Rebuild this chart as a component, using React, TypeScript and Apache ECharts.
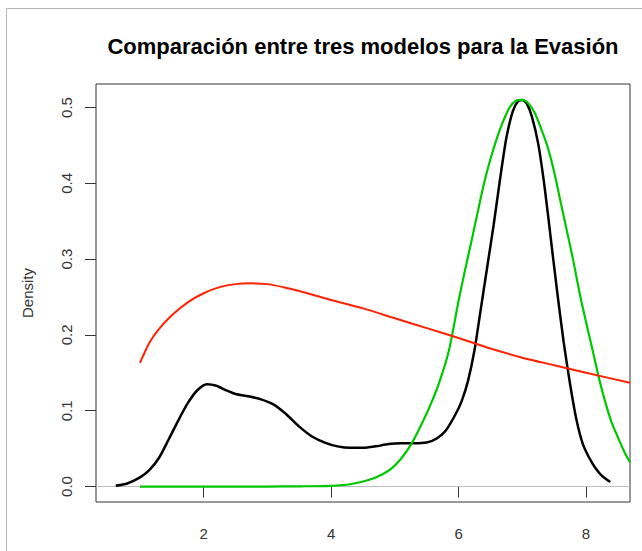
import React, { useEffect, useRef } from "react";
import * as echarts from "echarts";

const titleText = "Comparación entre tres modelos para la Evasión";
const yAxisName = "Density";

const xTicks = [2, 4, 6, 8];
const yTicks = [0, 0.1, 0.2, 0.3, 0.4, 0.5];
const xRange = [0.31, 8.69];
const yRange = [-0.0204, 0.531];

// Kernel density (black)
const blackX = [0.62, 0.8, 1.0, 1.15, 1.3, 1.45, 1.6, 1.75, 1.9, 2.05, 2.2, 2.35, 2.5, 2.7, 2.9, 3.1, 3.3, 3.5, 3.7, 3.9, 4.1, 4.3, 4.5, 4.7, 4.9, 5.1, 5.3, 5.5, 5.65, 5.8, 5.95, 6.05, 6.15, 6.25, 6.35, 6.45, 6.55, 6.65, 6.75, 6.85, 6.93, 7.0, 7.07, 7.15, 7.25, 7.35, 7.45, 7.55, 7.65, 7.75, 7.85, 7.95, 8.05, 8.15, 8.25, 8.38];
const blackY = [0.001, 0.004, 0.012, 0.022, 0.038, 0.062, 0.087, 0.11, 0.127, 0.135, 0.133, 0.127, 0.122, 0.119, 0.115, 0.108, 0.095, 0.079, 0.066, 0.058, 0.053, 0.051, 0.051, 0.053, 0.056, 0.057, 0.057, 0.058, 0.063, 0.074, 0.095, 0.113, 0.14, 0.18, 0.235, 0.29, 0.345, 0.405, 0.46, 0.495, 0.508, 0.51, 0.505, 0.488, 0.452, 0.395, 0.325, 0.255, 0.19, 0.135, 0.088, 0.056, 0.038, 0.024, 0.014, 0.006];

// Fitted model (green)
const greenX = [1.0, 2.0, 3.0, 3.5, 4.0, 4.3, 4.6, 4.8, 4.95, 5.1, 5.25, 5.4, 5.55, 5.7, 5.85, 6.0, 6.1, 6.2, 6.3, 6.4, 6.5, 6.6, 6.7, 6.8, 6.9, 7.0, 7.1, 7.2, 7.3, 7.4, 7.5, 7.6, 7.7, 7.8, 7.9, 8.0, 8.1, 8.2, 8.3, 8.4, 8.5, 8.6, 8.69];
const greenY = [0, 0, 0, 0.0003, 0.001, 0.003, 0.009, 0.016, 0.024, 0.037, 0.055, 0.079, 0.106, 0.138, 0.18, 0.245, 0.285, 0.323, 0.362, 0.4, 0.432, 0.459, 0.482, 0.5, 0.509, 0.51, 0.505, 0.492, 0.471, 0.447, 0.415, 0.376, 0.337, 0.298, 0.255, 0.217, 0.181, 0.144, 0.112, 0.085, 0.065, 0.046, 0.032];

// Fitted model (red)
const redX = [1.0, 1.15, 1.3, 1.5, 1.75, 2.0, 2.25, 2.5, 2.75, 3.0, 3.25, 3.5, 3.75, 4.0, 4.5, 5.0, 5.5, 6.0, 6.5, 7.0, 7.5, 8.0, 8.69];
const redY = [0.163, 0.19, 0.208, 0.226, 0.243, 0.255, 0.263, 0.267, 0.268, 0.267, 0.263, 0.258, 0.252, 0.246, 0.235, 0.222, 0.209, 0.196, 0.182, 0.17, 0.16, 0.15, 0.137];

const zeroLine = 0;

const zip = (xs: number[], ys: number[]) => xs.map((x, i) => [x, ys[i]]);

export default function App() {
  const ref = useRef<HTMLDivElement>(null);
  useEffect(() => {
    if (!ref.current) return;
    const chart = echarts.init(ref.current, undefined, { renderer: "svg" });
    const font = "Liberation Sans, Arial, sans-serif";
    chart.setOption({
      animation: false,
      backgroundColor: "#ffffff",
      textStyle: { fontFamily: font },
      grid: {
        left: 96,
        right: 12,
        top: 84,
        bottom: 49,
        show: true,
        borderColor: "#333333",
        borderWidth: 1,
        backgroundColor: "transparent",
      },
      graphic: [
        {
          type: "rect",
          silent: true,
          shape: { x: 6.5, y: 8.5, width: 700, height: 600 },
          style: { fill: "none", stroke: "#b4b4b4", lineWidth: 1 },
        },
        {
          type: "text",
          x: 363,
          y: 46,
          style: {
            text: titleText,
            fontFamily: font,
            fontWeight: "bold",
            fontSize: 22,
            fill: "#000000",
            align: "center",
            verticalAlign: "middle",
          },
        },
      ],
      xAxis: {
        type: "value",
        min: xRange[0],
        max: xRange[1],
        axisLine: { show: false },
        splitLine: { show: false },
        axisTick: {
          show: true,
          length: 11,
          customValues: xTicks,
          lineStyle: { color: "#333333" },
        },
        axisLabel: {
          customValues: xTicks,
          margin: 24,
          fontSize: 15,
          color: "#333333",
          fontFamily: font,
          formatter: (v: number) => String(v),
        },
      },
      yAxis: {
        type: "value",
        min: yRange[0],
        max: yRange[1],
        name: yAxisName,
        nameLocation: "middle",
        nameGap: 61,
        nameRotate: 90,
        nameTextStyle: { fontSize: 15, color: "#333333", fontFamily: font },
        axisLine: { show: false },
        splitLine: { show: false },
        axisTick: {
          show: true,
          length: 11,
          customValues: yTicks,
          lineStyle: { color: "#333333" },
        },
        axisLabel: {
          customValues: yTicks,
          rotate: 90,
          margin: 22,
          fontSize: 15,
          color: "#333333",
          fontFamily: font,
          formatter: (v: number) => v.toFixed(1),
        },
      },
      series: [
        {
          type: "line",
          name: "zero",
          data: [],
          z: 1,
          markLine: {
            z: 1,
            silent: true,
            symbol: ["none", "none"],
            label: { show: false },
            lineStyle: { color: "#bebebe", type: "solid", width: 1 },
            data: [{ yAxis: zeroLine }],
          },
        },
        {
          type: "line",
          name: "kernel",
          data: zip(blackX, blackY),
          showSymbol: false,
          smooth: 0.25,
          z: 2,
          lineStyle: { color: "#000000", width: 2.5 },
          itemStyle: { color: "#000000" },
        },
        {
          type: "line",
          name: "green",
          data: zip(greenX, greenY),
          showSymbol: false,
          smooth: 0.25,
          z: 3,
          lineStyle: { color: "#00c800", width: 2.2 },
          itemStyle: { color: "#00c800" },
        },
        {
          type: "line",
          name: "red",
          data: zip(redX, redY),
          showSymbol: false,
          smooth: 0.25,
          z: 4,
          lineStyle: { color: "#ff2200", width: 2 },
          itemStyle: { color: "#ff2200" },
        },
      ],
    });
    return () => chart.dispose();
  }, []);
  return (
    <div
      ref={ref}
      style={{ position: "fixed", left: 0, top: 0, width: 642, height: 551 }}
    />
  );
}
